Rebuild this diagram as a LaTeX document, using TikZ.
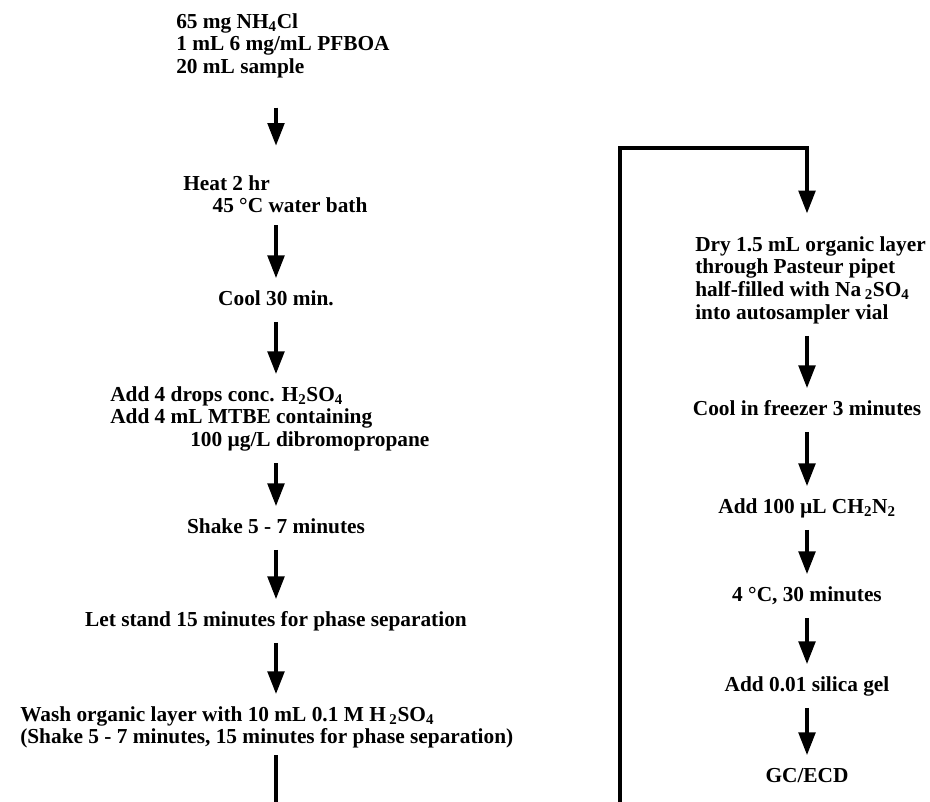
\documentclass[tikz,border=0pt]{standalone}
\usepackage{fontspec}
\setmainfont{Liberation Serif}
\usetikzlibrary{arrows.meta}

\begin{document}
\begin{tikzpicture}[x=0.75pt, y=-0.75pt,
    steptext/.style={inner sep=0pt, align=left, font=\fontsize{16}{17}\selectfont\bfseries},
    oneline/.style={steptext, text height=11pt, text depth=3.5pt},
    flow/.style={line width=2.5pt, -{Triangle[width=12.5pt, length=17pt]}, shorten <=9pt, shorten >=9pt},
    loopline/.style={line width=2.5pt}]
    % --- Configuration ---
    \def\leftX{276}   % arrow column, left branch
    \def\rightX{807}  % arrow column, right branch
    \def\loopX{620}   % return line
    \def\loopY{148}   % top of the return line

    \useasboundingbox (0,0) rectangle (930,801);
    \coordinate (lcol) at (\leftX,0);
    \coordinate (rcol) at (\rightX,0);

    % --- Left branch ---
    \node[steptext, anchor=north west] (mix) at (176,13)
        {65 mg NH\textsubscript{4}Cl\\1 mL 6 mg/mL PFBOA\\20 mL sample};
    \node[steptext, anchor=north west] (heat) at (183,175)
        {Heat 2 hr\\\hspace*{22pt}45 °C water bath};
    \node[oneline] (cool) at (\leftX,300) {Cool 30 min.};
    \node[steptext, anchor=north west] (acid) at (110,386)
        {Add 4 drops conc. H\textsubscript{2}SO\textsubscript{4}\\Add 4 mL MTBE containing\\\hspace*{60pt}100 µg/L dibromopropane};
    \node[oneline] (shake) at (\leftX,528) {Shake 5 - 7 minutes};
    \node[oneline] (stand) at (\leftX,621) {Let stand 15 minutes for phase separation};
    \node[steptext, anchor=north west] (wash) at (20,706)
        {Wash organic layer with 10 mL 0.1 M H\,\textsubscript{2}SO\textsubscript{4}\\(Shake 5 - 7 minutes, 15 minutes for phase separation)};

    % --- Right branch ---
    \node[steptext, anchor=north west] (dry) at (695,236)
        {Dry 1.5 mL organic layer\\through Pasteur pipet\\half-filled with Na\,\textsubscript{2}SO\textsubscript{4}\\into autosampler vial};
    \node[oneline] (freeze) at (\rightX,410) {Cool in freezer 3 minutes};
    \node[oneline] (diazo) at (\rightX,508) {Add 100 µL CH\textsubscript{2}N\textsubscript{2}};
    \node[oneline] (chill) at (\rightX,596) {4 °C, 30 minutes};
    \node[oneline] (silica) at (\rightX,686) {Add 0.01 silica gel};
    \node[oneline] (gc) at (\rightX,777) {GC/ECD};

    % --- Arrows ---
    \draw[flow, shorten <=22pt, shorten >=22pt] (mix.south -| lcol) -- (heat.north -| lcol);
    \foreach \a/\b in {heat/cool, cool/acid, acid/shake, shake/stand, stand/wash}
        \draw[flow] (\a.south -| lcol) -- (\b.north -| lcol);
    \foreach \a/\b in {dry/freeze, freeze/diazo, diazo/chill, chill/silica, silica/gc}
        \draw[flow] (\a.south -| rcol) -- (\b.north -| rcol);

    % return line, runs below the page edge
    \draw[loopline, -{Triangle[width=12.5pt, length=17pt]}, shorten <=5pt, shorten >=17pt]
        (wash.south -| lcol) -- (\leftX,840) -- (\loopX,840) -- (\loopX,\loopY)
        -- (\rightX,\loopY) -- (dry.north -| rcol);
\end{tikzpicture}
\end{document}
